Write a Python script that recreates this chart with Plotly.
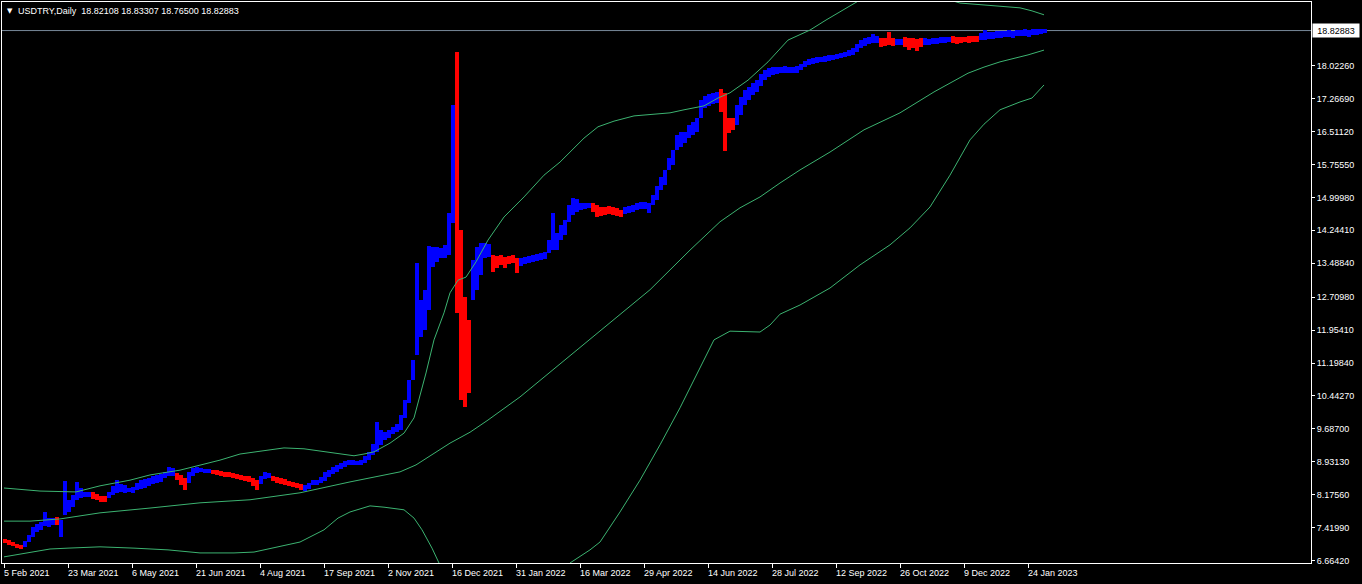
import plotly.graph_objects as go

# ---------------- data ----------------
symbol_title = "USDTRY,Daily"
last_ohlc = ["18.82108", "18.83307", "18.76500", "18.82883"]
last_price = 18.82883

date_labels = ["5 Feb 2021", "23 Mar 2021", "6 May 2021", "21 Jun 2021", "4 Aug 2021",
               "17 Sep 2021", "2 Nov 2021", "16 Dec 2021", "31 Jan 2022", "16 Mar 2022",
               "29 Apr 2022", "14 Jun 2022", "28 Jul 2022", "12 Sep 2022", "26 Oct 2022",
               "9 Dec 2022", "24 Jan 2023"]
date_tick_bars = [0, 32, 64, 96, 128, 160, 192, 224, 256, 288, 320, 352, 384, 416, 448, 480, 512]

price_ticks = [18.02260, 17.26690, 16.51120, 15.75550, 14.99980, 14.24410, 13.48840,
               12.70980, 11.95410, 11.19840, 10.44270, 9.68700, 8.93130, 8.17560,
               7.41990, 6.66420]

# price bars, one entry per 2 daily bars
bar_high = [
    7.16, 7.14, 7.09, 7.05, 7.02, 7.11, 7.25, 7.44, 7.50, 7.55,
    7.78, 7.64, 7.64, 7.67, 7.60, 8.49, 8.06, 8.17, 8.47, 8.33,
    8.24, 8.24, 8.24, 8.19, 8.15, 8.15, 8.24, 8.38, 8.51, 8.42,
    8.40, 8.33, 8.35, 8.45, 8.51, 8.54, 8.56, 8.61, 8.63, 8.65,
    8.70, 8.81, 8.79, 8.68, 8.63, 8.56, 8.70, 8.79, 8.81, 8.79,
    8.77, 8.77, 8.74, 8.74, 8.72, 8.70, 8.70, 8.68, 8.65, 8.63,
    8.61, 8.61, 8.56, 8.51, 8.61, 8.70, 8.68, 8.61, 8.58, 8.56,
    8.54, 8.49, 8.47, 8.45, 8.42, 8.40, 8.45, 8.51, 8.51, 8.58,
    8.70, 8.74, 8.81, 8.86, 8.90, 8.95, 8.97, 8.97, 8.95, 8.97,
    9.07, 9.16, 9.34, 9.85, 9.66, 9.62, 9.66, 9.73, 9.80, 10.01,
    10.35, 10.81, 11.27, 13.49, 12.65, 12.88, 13.88, 13.86, 13.86, 13.84,
    13.91, 14.64, 17.12, 18.34, 14.25, 12.71, 12.19, 13.56, 13.86, 13.95,
    13.95, 13.93, 13.68, 13.66, 13.68, 13.63, 13.66, 13.68, 13.61, 13.61,
    13.63, 13.66, 13.68, 13.70, 13.72, 13.75, 14.02, 14.64, 14.18, 14.37,
    14.48, 14.83, 14.99, 14.96, 14.87, 14.87, 14.87, 14.87, 14.83, 14.78,
    14.78, 14.80, 14.78, 14.76, 14.71, 14.78, 14.80, 14.83, 14.87, 14.89,
    14.89, 14.87, 15.06, 15.26, 15.47, 15.63, 15.90, 16.09, 16.43, 16.50,
    16.50, 16.66, 16.73, 16.82, 17.24, 17.33, 17.37, 17.40, 17.42, 17.49,
    17.40, 16.82, 16.82, 17.12, 17.30, 17.46, 17.53, 17.62, 17.69, 17.83,
    17.92, 17.97, 17.99, 17.99, 17.99, 18.01, 17.99, 17.99, 18.01, 18.06,
    18.13, 18.18, 18.20, 18.22, 18.22, 18.25, 18.27, 18.27, 18.29, 18.31,
    18.34, 18.38, 18.43, 18.52, 18.61, 18.66, 18.68, 18.75, 18.70, 18.66,
    18.66, 18.80, 18.66, 18.64, 18.64, 18.68, 18.66, 18.66, 18.64, 18.66,
    18.66, 18.64, 18.66, 18.66, 18.68, 18.68, 18.68, 18.70, 18.68, 18.68,
    18.68, 18.70, 18.70, 18.70, 18.77, 18.84, 18.80, 18.80, 18.82, 18.82,
    18.82, 18.84, 18.82, 18.84, 18.84, 18.86, 18.84, 18.86, 18.86, 18.86,
    18.86,
]
bar_low = [
    7.07, 7.02, 7.00, 6.95, 6.93, 6.98, 7.09, 7.21, 7.32, 7.37,
    7.46, 7.44, 7.48, 7.48, 7.21, 7.71, 7.78, 7.89, 8.06, 8.10,
    8.12, 8.12, 8.08, 8.06, 8.01, 8.01, 8.10, 8.17, 8.22, 8.24,
    8.22, 8.24, 8.22, 8.28, 8.31, 8.33, 8.38, 8.42, 8.45, 8.47,
    8.56, 8.61, 8.61, 8.51, 8.40, 8.28, 8.45, 8.61, 8.68, 8.70,
    8.68, 8.68, 8.65, 8.63, 8.61, 8.58, 8.58, 8.56, 8.54, 8.51,
    8.49, 8.47, 8.38, 8.28, 8.42, 8.54, 8.56, 8.49, 8.45, 8.42,
    8.40, 8.38, 8.35, 8.33, 8.28, 8.26, 8.31, 8.40, 8.40, 8.45,
    8.49, 8.58, 8.65, 8.70, 8.77, 8.81, 8.86, 8.86, 8.86, 8.86,
    8.90, 8.97, 9.09, 9.16, 9.32, 9.43, 9.48, 9.57, 9.62, 9.66,
    9.94, 10.28, 10.81, 11.38, 11.80, 11.96, 12.42, 13.40, 13.52, 13.61,
    13.61, 13.68, 14.41, 12.35, 10.35, 10.19, 10.51, 12.65, 12.88, 13.22,
    13.61, 13.63, 13.29, 13.38, 13.45, 13.38, 13.47, 13.49, 13.27, 13.43,
    13.47, 13.49, 13.52, 13.54, 13.56, 13.59, 13.72, 13.79, 13.79, 14.02,
    14.14, 14.44, 14.60, 14.67, 14.71, 14.73, 14.76, 14.67, 14.55, 14.57,
    14.60, 14.62, 14.60, 14.57, 14.55, 14.62, 14.64, 14.67, 14.71, 14.73,
    14.73, 14.64, 14.83, 14.94, 15.17, 15.28, 15.63, 15.74, 16.09, 16.16,
    16.25, 16.36, 16.43, 16.50, 16.82, 17.05, 17.10, 17.14, 17.17, 16.96,
    16.07, 16.48, 16.55, 16.66, 16.89, 17.12, 17.24, 17.35, 17.42, 17.56,
    17.69, 17.76, 17.81, 17.83, 17.85, 17.85, 17.85, 17.85, 17.85, 17.92,
    17.99, 18.04, 18.06, 18.08, 18.11, 18.11, 18.13, 18.15, 18.18, 18.20,
    18.22, 18.25, 18.27, 18.34, 18.43, 18.47, 18.52, 18.54, 18.54, 18.45,
    18.47, 18.50, 18.47, 18.50, 18.50, 18.45, 18.38, 18.43, 18.36, 18.45,
    18.50, 18.50, 18.52, 18.52, 18.54, 18.54, 18.57, 18.54, 18.52, 18.54,
    18.57, 18.54, 18.57, 18.57, 18.61, 18.61, 18.64, 18.64, 18.66, 18.66,
    18.68, 18.68, 18.66, 18.70, 18.70, 18.70, 18.68, 18.73, 18.73, 18.75,
    18.77,
]
# colour state of consecutive samples: (state, number of samples)
trend_runs = [("down", 5), ("up", 8), ("down", 1), ("up", 8), ("down", 4), ("up", 17),
              ("down", 3), ("up", 6), ("down", 12), ("up", 3), ("down", 8), ("up", 38),
              ("down", 4), ("up", 5), ("down", 7), ("up", 18), ("down", 8), ("up", 24),
              ("down", 4), ("up", 36), ("down", 4), ("up", 2), ("down", 5), ("up", 7),
              ("down", 7), ("up", 17)]
bars_per_sample = 2

# Bollinger bands (bar index, value)
upper_idx = [0, 18, 36, 48, 63, 73, 88, 98, 108, 118, 128, 140, 150, 160, 170, 175, 180, 185,
             193, 200, 205, 211, 215, 220, 223, 227, 231, 236, 242, 250, 260, 270, 278, 283,
             290, 297, 305, 315, 325, 333, 340, 350, 357, 363, 372, 382, 392, 403, 411, 421,
             428, 438, 448, 458, 468, 478, 488, 498, 508, 514, 520]
upper_val = [8.33, 8.26, 8.24, 8.38, 8.51, 8.63, 8.74, 8.86, 8.97, 9.11, 9.18, 9.25, 9.23,
             9.16, 9.09, 9.07, 9.11, 9.16, 9.36, 9.59, 9.94, 10.97, 11.73, 12.35, 12.81,
             13.10, 13.17, 13.52, 14.02, 14.55, 15.01, 15.51, 15.81, 16.04, 16.36, 16.62,
             16.75, 16.87, 16.91, 16.94, 17.01, 17.10, 17.28, 17.40, 17.69, 18.11, 18.61,
             18.84, 19.07, 19.35, 19.53, 19.64, 19.71, 19.69, 19.60, 19.46, 19.42, 19.39,
             19.35, 19.28, 19.19]
middle_idx = [0, 13, 28, 48, 73, 98, 123, 148, 173, 198, 206, 215, 223, 233, 242, 258, 278,
              298, 323, 343, 358, 368, 378, 388, 398, 413, 430, 448, 465, 482, 490, 498, 512, 520]
middle_val = [7.57, 7.57, 7.62, 7.76, 7.87, 7.99, 8.06, 8.22, 8.47, 8.70, 8.86, 9.13, 9.36,
              9.61, 9.89, 10.42, 11.18, 11.93, 12.88, 13.79, 14.44, 14.76, 15.01, 15.33,
              15.63, 16.04, 16.55, 16.94, 17.42, 17.85, 17.99, 18.11, 18.27, 18.38]
lower_idx = [0, 14, 23, 32, 48, 65, 82, 98, 115, 125, 132, 140, 148, 160, 167, 173, 183, 190,
             200, 205, 209, 214, 218, 228, 243, 258, 270, 283, 293, 298, 308, 318, 328, 338,
             348, 355, 363, 378, 383, 388, 398, 413, 428, 443, 453, 463, 473, 483, 490, 498,
             508, 514, 520]
lower_val = [6.75, 6.86, 6.93, 6.95, 6.98, 6.95, 6.91, 6.84, 6.84, 6.86, 6.93, 7.00, 7.09,
             7.37, 7.64, 7.78, 7.92, 7.89, 7.83, 7.64, 7.37, 6.95, 6.56, 5.76, 4.84, 4.61,
             5.07, 6.61, 6.91, 7.09, 7.78, 8.51, 9.32, 10.17, 11.08, 11.73, 11.93, 11.91,
             12.07, 12.32, 12.53, 12.92, 13.45, 13.91, 14.30, 14.78, 15.51, 16.32, 16.68,
             17.01, 17.19, 17.28, 17.58]

# ---------------- figure ----------------
FONT = "Liberation Sans, Arial, sans-serif"
UP_COLOR = "#0000FF"
DOWN_COLOR = "#FF0000"
BAND_COLOR = "#3CB371"

trend = []
for state, n in trend_runs:
    trend += [state] * n

fig = go.Figure()
for state, color in (("up", UP_COLOR), ("down", DOWN_COLOR)):
    xs, hs, bs = [], [], []
    for k, (h, l) in enumerate(zip(bar_high, bar_low)):
        if trend[k] == state:
            xs.append(bars_per_sample * k + 0.5)
            hs.append(h - l)
            bs.append(l)
    fig.add_trace(go.Bar(x=xs, y=hs, base=bs, width=bars_per_sample,
                         marker=dict(color=color, line=dict(width=0)),
                         hoverinfo="skip"))

for xs, ys in ((upper_idx, upper_val), (middle_idx, middle_val), (lower_idx, lower_val)):
    fig.add_trace(go.Scatter(x=xs, y=ys, mode="lines",
                             line=dict(color=BAND_COLOR, width=1), hoverinfo="skip"))

annotations = []
for lbl, v in zip(date_labels, date_tick_bars):
    annotations.append(dict(x=v, xref="x", y=0, yref="paper", xanchor="left", yanchor="top",
                            xshift=-2, yshift=-3, text=lbl, showarrow=False,
                            font=dict(family=FONT, size=9, color="white")))
annotations.append(dict(x=0, xref="paper", y=1, yref="paper", xanchor="left", yanchor="top",
                        xshift=3, yshift=-3, text="\u25BC", showarrow=False,
                        font=dict(family="DejaVu Sans", size=7, color="white")))
annotations.append(dict(x=0, xref="paper", y=1, yref="paper", xanchor="left", yanchor="top",
                        xshift=14, yshift=-2,
                        text=symbol_title + "\u00a0\u00a0" + " ".join(last_ohlc),
                        showarrow=False, font=dict(family=FONT, size=9, color="white")))
annotations.append(dict(x=1, xref="paper", y=last_price, yref="y", xanchor="left",
                        yanchor="middle", xshift=1, text=f"{last_price:.5f}", showarrow=False,
                        bgcolor="white", borderpad=1, width=44, height=11,
                        font=dict(family=FONT, size=9, color="black")))

fig.update_layout(
    width=1362, height=584,
    margin=dict(l=2, r=51, t=2, b=21),
    paper_bgcolor="black", plot_bgcolor="black",
    showlegend=False, barmode="overlay", bargap=0,
    font=dict(family=FONT, size=9, color="white"),
    xaxis=dict(range=[-1, 653.5], showgrid=False, zeroline=False, showline=True,
               linecolor="white", linewidth=1, mirror=True, ticks="outside", ticklen=4,
               tickcolor="white", tickvals=date_tick_bars, showticklabels=False,
               fixedrange=True),
    yaxis=dict(range=[6.609, 19.484], side="right", showgrid=False, zeroline=False,
               showline=True, linecolor="white", linewidth=1, mirror=True, ticks="outside",
               ticklen=3, tickcolor="white", tickvals=price_ticks,
               ticktext=[f"{v:.5f}" for v in price_ticks], automargin=False,
               tickfont=dict(family=FONT, size=9, color="white"), fixedrange=True),
    shapes=[dict(type="line", xref="paper", x0=0, x1=1, yref="y", y0=last_price,
                 y1=last_price, line=dict(color="#778899", width=1), layer="below")],
    annotations=annotations,
)

fig.write_html(
    "out.html",
    config={"displayModeBar": False},
    post_script="document.body.style.margin='0';document.body.style.padding='0';"
                "document.body.style.background='black';",
)
